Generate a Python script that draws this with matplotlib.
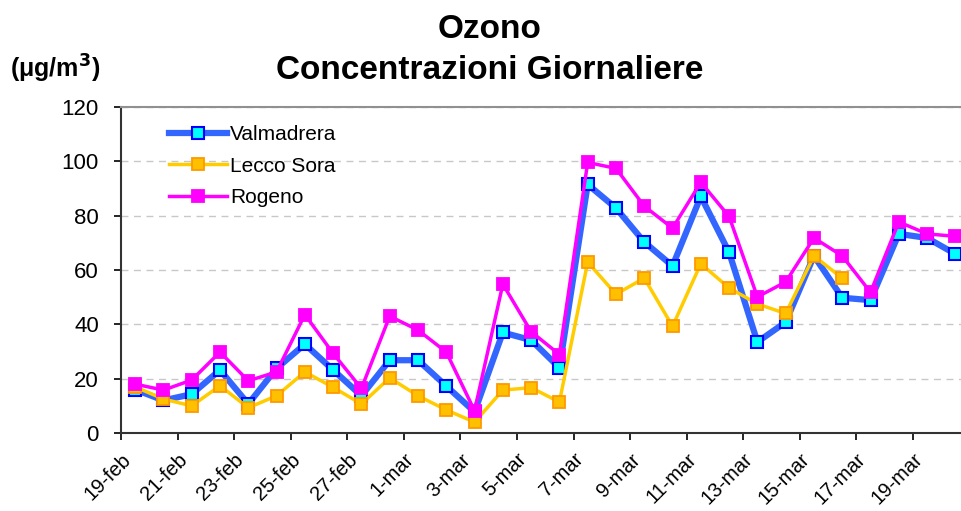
import numpy as np
import matplotlib
matplotlib.use('Agg')
import matplotlib.pyplot as plt

plt.rcParams['font.family'] = ['Liberation Sans', 'DejaVu Sans']

days = ['19-feb', '20-feb', '21-feb', '22-feb', '23-feb', '24-feb', '25-feb', '26-feb',
        '27-feb', '28-feb', '1-mar', '2-mar', '3-mar', '4-mar', '5-mar', '6-mar',
        '7-mar', '8-mar', '9-mar', '10-mar', '11-mar', '12-mar', '13-mar', '14-mar',
        '15-mar', '16-mar', '17-mar', '18-mar', '19-mar', '20-mar']

valmadrera = [16, 12, 14.3, 23.2, 10.7, 23.8, 32.7, 23.2, 13.7, 26.8, 26.8, 17.3, 7.8, 37, 34.2,
              24, 91.5, 82.8, 70.3, 61.5, 87.1, 66.5, 33.5, 40.8, 65.2, 49.8, 48.9, 73.3, 71.8, 65.9]
lecco_sora = [17, 12.5, 10, 17.4, 9.3, 13.7, 22.5, 16.8, 10.7, 20.3, 13.7, 8.5, 4, 15.8, 16.7,
              11.4, 62.9, 51.1, 57, 39.3, 62.3, 53.4, 47.5, 44, 65.2, 57,
              np.nan, np.nan, np.nan, np.nan]
rogeno = [18, 15.8, 19.5, 29.8, 19.2, 22.5, 43.6, 29.3, 16.4, 43, 37.9, 29.8, 8.2, 54.8, 37.3,
          28.9, 99.6, 97.4, 83.5, 75.4, 92.3, 79.7, 50.1, 55.6, 71.8, 65.2, 51.8, 77.7, 73.3, 72.4]

x = np.arange(len(days))

fig = plt.figure(figsize=(9.62, 5.11), dpi=100)
ax = fig.add_axes([0.1258, 0.1526, 0.882, 0.638])

ax.plot(x, valmadrera, color='#3366FF', lw=4.5, marker='s', ms=8,
        mfc='#00FFFF', mec='#0000FF', mew=1.5, label='Valmadrera', zorder=3)
ax.plot(x, lecco_sora, color='#FFCC00', lw=2.5, marker='s', ms=8,
        mfc='#FFC000', mec='#FF9900', mew=1.3, label='Lecco Sora', zorder=4)
ax.plot(x, rogeno, color='#FF00FF', lw=2.5, marker='s', ms=8,
        mfc='#FF00FF', mec='#FF00FF', mew=1.3, label='Rogeno', zorder=5)

ax.set_xlim(-0.5, len(days) - 0.5)
ax.set_ylim(0, 120)
ax.set_yticks(range(0, 121, 20))
ax.tick_params(axis='y', labelsize=16, length=5, width=1.2, direction='out', pad=11)
ax.yaxis.grid(True, color='#C8C8C8', ls=(0, (5, 4)), lw=1)
ax.set_axisbelow(True)

ticks = np.arange(-0.5, len(days) - 0.5, 2)
ax.set_xticks(ticks)
ax.set_xticklabels(days[::2], rotation=45, ha='right', va='top',
                   rotation_mode='anchor', fontsize=14.5)
ax.tick_params(axis='x', length=5, width=1.2, direction='out', pad=7)

for s in ['left', 'bottom']:
    ax.spines[s].set_color('#333333')
    ax.spines[s].set_linewidth(1.5)
ax.spines['top'].set_color('#909090')
ax.spines['top'].set_linewidth(1.5)
ax.spines['right'].set_visible(False)

ax.legend(loc='upper left', bbox_to_anchor=(0.035, 1.002), frameon=False,
          fontsize=15, handlelength=2.75, handletextpad=0.15, labelspacing=0.6)

fig.text(0.509, 0.972, 'Ozono\nConcentrazioni Giornaliere', ha='center', va='top',
         fontsize=24, fontweight='bold', linespacing=1.4)
fig.text(0.01, 0.865, '(\u03bcg/m$^{\\mathbf{3}}$)', ha='left', va='center',
         fontsize=18, fontweight='bold')

fig.savefig('out.png', dpi=100)
